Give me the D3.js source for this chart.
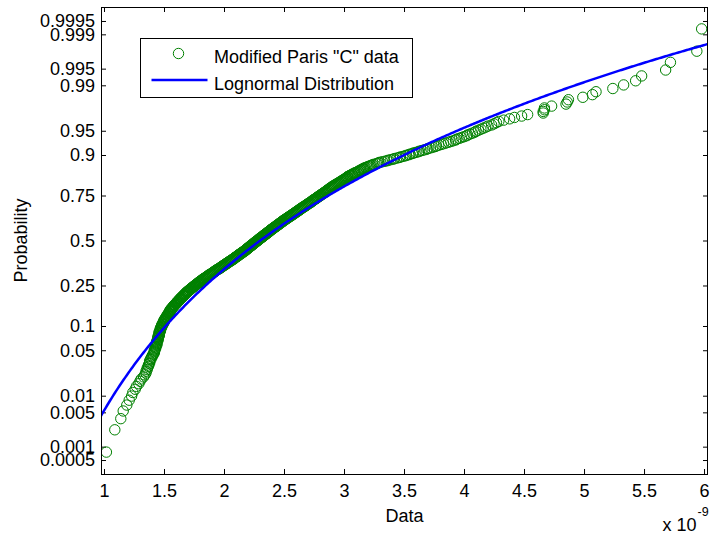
<!DOCTYPE html>
<html>
<head>
<meta charset="utf-8">
<script src="https://cdn.jsdelivr.net/npm/d3@7"></script>
<style>
  html, body { margin: 0; padding: 0; background: #fff; }
  svg { display: block; }
  text { font-family: "Liberation Sans", Arial, Helvetica, sans-serif; fill: #000; }
</style>
</head>
<body>
<svg id="chart" width="711" height="537"></svg>
<script>
// sorted sample, in units of 1e-9 (rank by rank)
const sortedData = [
  1.02,1.09,1.14,1.16,1.19,1.21,1.23,1.24,1.26,1.27,1.29,1.30,1.31,1.33,1.34,1.35,1.35,1.36,1.36,1.37,
  1.37,1.38,1.38,1.38,1.39,1.39,1.40,1.40,1.41,1.41,
  1.42,1.42,1.42,1.42,1.43,1.43,1.43,1.43,1.44,1.44,
  1.44,1.44,1.44,1.44,1.45,1.45,1.45,1.45,1.45,1.45,
  1.46,1.46,1.46,1.46,1.46,1.46,1.46,1.47,1.47,1.47,
  1.47,1.47,1.47,1.48,1.48,1.48,1.48,1.48,1.49,1.49,
  1.49,1.49,1.50,1.50,1.50,1.50,1.50,1.51,1.51,1.51,
  1.51,1.52,1.52,1.52,1.52,1.53,1.53,1.53,1.53,1.54,
  1.54,1.54,1.54,1.55,1.55,1.55,1.55,1.55,1.56,1.56,
  1.56,1.56,1.57,1.57,1.57,1.58,1.58,1.58,1.58,1.59,1.59,1.59,1.60,1.60,1.60,1.61,1.61,1.61,1.61,1.62,
  1.62,1.62,1.63,1.63,1.63,1.63,1.64,1.64,1.64,1.65,1.65,1.65,1.66,1.66,1.66,1.66,1.67,1.67,1.67,1.68,
  1.68,1.68,1.68,1.69,1.69,1.69,1.70,1.70,1.70,1.71,1.71,1.71,1.72,1.72,1.72,1.73,1.73,1.73,1.74,1.74,
  1.74,1.75,1.75,1.75,1.76,1.76,1.76,1.77,1.77,1.77,1.78,1.78,1.78,1.79,1.79,1.79,1.80,1.80,1.80,1.81,
  1.81,1.81,1.82,1.82,1.82,1.83,1.83,1.83,1.84,1.84,1.85,1.85,1.85,1.86,1.86,1.86,1.87,1.87,1.87,1.88,
  1.88,1.88,1.89,1.89,1.90,1.90,1.90,1.91,1.91,1.91,1.92,1.92,1.92,1.93,1.93,1.93,1.94,1.94,1.94,1.95,
  1.95,1.96,1.96,1.96,1.97,1.97,1.97,1.98,1.98,1.98,
  1.99,1.99,1.99,2.00,2.00,2.00,2.01,2.01,2.01,2.02,2.02,2.02,2.03,2.03,2.03,2.04,2.04,2.04,2.05,2.05,
  2.05,2.06,2.06,2.06,2.07,2.07,2.07,2.08,2.08,2.08,
  2.09,2.09,2.09,2.09,2.10,2.10,2.10,2.11,2.11,2.11,2.12,2.12,2.12,2.12,2.13,2.13,2.13,2.14,2.14,2.14,
  2.15,2.15,2.15,2.15,2.16,2.16,2.16,2.17,2.17,2.17,
  2.18,2.18,2.18,2.18,2.19,2.19,2.19,2.19,2.20,2.20,2.20,2.20,2.21,2.21,2.21,2.21,2.22,2.22,2.22,2.23,
  2.23,2.23,2.23,2.24,2.24,2.24,2.24,2.25,2.25,2.25,2.25,2.26,2.26,2.26,2.26,2.27,2.27,2.27,2.28,2.28,
  2.28,2.28,2.29,2.29,2.29,2.29,2.30,2.30,2.30,2.30,2.31,2.31,2.31,2.32,2.32,2.32,2.32,2.33,2.33,2.33,
  2.33,2.34,2.34,2.34,2.35,2.35,2.35,2.35,2.36,2.36,2.36,2.36,2.37,2.37,2.37,2.38,2.38,2.38,2.38,2.39,
  2.39,2.39,2.39,2.40,2.40,2.40,2.41,2.41,2.41,2.41,2.42,2.42,2.42,2.43,2.43,2.43,2.44,2.44,2.44,2.44,
  2.45,2.45,2.45,2.46,2.46,2.46,2.46,2.47,2.47,2.47,2.48,2.48,2.48,2.49,2.49,2.49,2.49,2.50,2.50,2.50,
  2.51,2.51,2.51,2.52,2.52,2.52,2.53,2.53,2.53,2.54,2.54,2.54,2.55,2.55,2.55,2.56,2.56,2.56,2.57,2.57,
  2.57,2.58,2.58,2.58,2.59,2.59,2.59,2.60,2.60,2.60,2.61,2.61,2.61,2.62,2.62,2.62,2.63,2.63,2.63,2.64,
  2.64,2.64,2.65,2.65,2.65,2.66,2.66,2.66,2.67,2.67,2.68,2.68,2.68,2.69,2.69,2.69,2.70,2.70,2.70,2.71,
  2.71,2.72,2.72,2.72,2.73,2.73,2.73,2.74,2.74,2.74,2.75,2.75,2.75,2.76,2.76,2.77,2.77,2.77,2.78,2.78,
  2.78,2.79,2.79,2.80,2.80,2.80,2.81,2.81,2.81,2.82,2.82,2.83,2.83,2.83,2.84,2.84,2.85,2.85,2.85,2.86,
  2.86,2.86,2.87,2.87,2.88,2.88,2.88,2.89,2.89,2.90,
  2.90,2.90,2.91,2.91,2.92,2.92,2.93,2.93,2.94,2.94,2.95,2.95,2.96,2.96,2.97,2.97,2.98,2.98,2.99,2.99,
  3.00,3.00,3.01,3.01,3.02,3.02,3.03,3.03,3.03,3.04,
  3.05,3.05,3.06,3.07,3.07,3.08,3.09,3.09,3.10,3.11,3.12,3.12,3.13,3.14,3.14,3.15,3.16,3.16,3.17,3.18,
  3.19,3.20,3.21,3.22,3.23,3.24,3.25,3.27,3.28,3.29,
  3.30,3.32,3.34,3.36,3.37,3.39,3.41,3.42,3.44,3.46,
  3.47,3.49,3.51,3.52,3.54,3.55,3.57,3.58,3.60,3.62,
  3.63,3.65,3.67,3.69,3.70,3.72,3.74,3.76,3.77,3.79,
  3.81,3.83,3.85,3.87,3.89,3.91,3.93,3.94,3.96,3.98,
  4.00,4.02,4.03,4.05,4.07,4.09,4.10,4.12,4.14,4.16,
  4.18,4.20,4.23,4.25,4.27,4.29,
  4.33,4.38,4.42,4.48,4.53,4.66,4.66,4.67,4.67,4.73,4.85,4.86,4.87,4.99,5.07,5.10,5.24,5.33,5.43,5.48,
  5.68,5.72,5.94,5.98
];

// fitted lognormal, parameters of ln(x) with x in 1e-9 units
const fitMu = 0.834;
const fitSigma = 0.327;

const xTicks = [1, 1.5, 2, 2.5, 3, 3.5, 4, 4.5, 5, 5.5, 6];
const yTicks = [0.0005, 0.001, 0.005, 0.01, 0.05, 0.1, 0.25, 0.5, 0.75, 0.9, 0.95, 0.99, 0.995, 0.999, 0.9995];
const xLimits = [0.975, 6.033];
const zLimits = [-3.5, 3.5];
const seriesNames = ['Modified Paris "C" data', 'Lognormal Distribution'];

const dataColor = '#008000';
const fitColor = '#0000ff';
const fontSize = 18;

// inverse standard normal cdf (Acklam)
function probit(p) {
  const a = [-3.969683028665376e+01, 2.209460984245205e+02, -2.759285104469687e+02,
             1.383577518672690e+02, -3.066479806614716e+01, 2.506628277459239e+00];
  const b = [-5.447609879822406e+01, 1.615858368580409e+02, -1.556989798598866e+02,
             6.680131188771972e+01, -1.328068155288572e+01];
  const c = [-7.784894002430293e-03, -3.223964580411365e-01, -2.400758276161838e+00,
             -2.549732539343734e+00, 4.374664141464968e+00, 2.938163982698783e+00];
  const d = [7.784695709041462e-03, 3.224671290700398e-01, 2.445134137142996e+00,
             3.754408661907416e+00];
  const plow = 0.02425;
  let q, r;
  if (p < plow) {
    q = Math.sqrt(-2 * Math.log(p));
    return (((((c[0]*q+c[1])*q+c[2])*q+c[3])*q+c[4])*q+c[5]) /
           ((((d[0]*q+d[1])*q+d[2])*q+d[3])*q+1);
  }
  if (p <= 1 - plow) {
    q = p - 0.5; r = q * q;
    return (((((a[0]*r+a[1])*r+a[2])*r+a[3])*r+a[4])*r+a[5])*q /
           (((((b[0]*r+b[1])*r+b[2])*r+b[3])*r+b[4])*r+1);
  }
  q = Math.sqrt(-2 * Math.log(1 - p));
  return -(((((c[0]*q+c[1])*q+c[2])*q+c[3])*q+c[4])*q+c[5]) /
          ((((d[0]*q+d[1])*q+d[2])*q+d[3])*q+1);
}

const margin = { top: 7, right: 3, bottom: 63, left: 101 };
const width = 711 - margin.left - margin.right;
const height = 537 - margin.top - margin.bottom;

const svg = d3.select('#chart');
const g = svg.append('g').attr('transform', `translate(${margin.left},${margin.top})`);

const x = d3.scaleLinear().domain(xLimits).range([0, width]);
const y = d3.scaleLinear().domain(zLimits).range([height, 0]);

const n = sortedData.length;
const points = sortedData.map((v, i) => ({ value: v, z: probit((i + 1 - 0.5) / n) }));

g.append('clipPath').attr('id', 'plot-clip')
  .append('rect').attr('width', width).attr('height', height);

// axes, ticks pointing inward like matlab
const zTicks = yTicks.map(probit);
const yFmt = (d, i) => String(yTicks[i]);

function styleAxis(sel) {
  sel.select('.domain').remove();
  sel.attr('font-size', fontSize).attr('font-family', '"Liberation Sans", Arial, sans-serif');
  sel.selectAll('line').attr('stroke', '#000');
  sel.selectAll('text').attr('fill', '#000');
}

g.append('g')
  .attr('transform', `translate(0,${height})`)
  .call(d3.axisBottom(x).tickValues(xTicks).tickSize(-5).tickPadding(10).tickFormat(d => String(d)))
  .call(styleAxis);

g.append('g')
  .call(d3.axisTop(x).tickValues(xTicks).tickSize(-5).tickFormat(''))
  .call(styleAxis);

g.append('g')
  .call(d3.axisLeft(y).tickValues(zTicks).tickSize(-5).tickPadding(6).tickFormat(yFmt))
  .call(styleAxis);

g.append('g')
  .attr('transform', `translate(${width},0)`)
  .call(d3.axisRight(y).tickValues(zTicks).tickSize(-5).tickFormat(''))
  .call(styleAxis);

// data markers
g.append('g')
  .attr('clip-path', 'url(#plot-clip)')
  .selectAll('circle')
  .data(points)
  .join('circle')
  .attr('cx', d => x(d.value))
  .attr('cy', d => y(d.z))
  .attr('r', 5.2)
  .attr('fill', 'none')
  .attr('stroke', dataColor)
  .attr('stroke-width', 1);

// fitted lognormal cdf across the x range
const fitX = d3.range(0, 401).map(i => xLimits[0] + (xLimits[1] - xLimits[0]) * i / 400);
const fitLine = d3.line()
  .x(d => x(d))
  .y(d => y((Math.log(d) - fitMu) / fitSigma));

g.append('path')
  .datum(fitX)
  .attr('clip-path', 'url(#plot-clip)')
  .attr('d', fitLine)
  .attr('fill', 'none')
  .attr('stroke', fitColor)
  .attr('stroke-width', 2.5);

// frame
g.append('rect')
  .attr('x', 0.5).attr('y', 0.5)
  .attr('width', width - 1).attr('height', height)
  .attr('fill', 'none')
  .attr('stroke', '#000')
  .attr('stroke-width', 1);

// axis labels
svg.append('text')
  .attr('x', margin.left + width / 2)
  .attr('y', 521.5)
  .attr('text-anchor', 'middle')
  .attr('font-size', fontSize)
  .text('Data');

svg.append('text')
  .attr('transform', `translate(26.5,${margin.top + height / 2}) rotate(-90)`)
  .attr('text-anchor', 'middle')
  .attr('font-size', fontSize)
  .text('Probability');

const mult = svg.append('text')
  .attr('x', 662.5)
  .attr('y', 530.5)
  .attr('font-size', fontSize);
mult.append('tspan').text('x 10');
svg.append('text')
  .attr('x', 697.5)
  .attr('y', 515.5)
  .attr('font-size', 12.5)
  .text('-9');

// legend
const legend = svg.append('g').attr('transform', 'translate(140.5,38.5)');
legend.append('rect')
  .attr('width', 272)
  .attr('height', 59)
  .attr('fill', '#fff')
  .attr('stroke', '#000')
  .attr('stroke-width', 1);

legend.append('circle')
  .attr('cx', 38)
  .attr('cy', 15)
  .attr('r', 5.2)
  .attr('fill', 'none')
  .attr('stroke', dataColor);

legend.append('line')
  .attr('x1', 11).attr('x2', 67)
  .attr('y1', 41.5).attr('y2', 41.5)
  .attr('stroke', fitColor)
  .attr('stroke-width', 2.5);

legend.selectAll('text.lbl')
  .data(seriesNames)
  .join('text')
  .attr('class', 'lbl')
  .attr('x', 73.5)
  .attr('y', (d, i) => i === 0 ? 24.5 : 51)
  .attr('font-size', fontSize)
  .text(d => d);
</script>
</body>
</html>
